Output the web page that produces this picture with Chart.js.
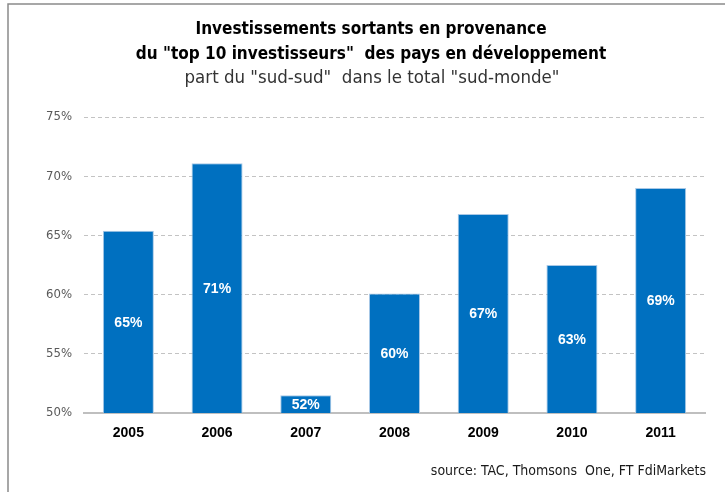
<!DOCTYPE html>
<html>
<head>
<meta charset="utf-8">
<script src="https://cdn.jsdelivr.net/npm/chart.js@4.4.1/dist/chart.umd.min.js"></script>
<style>
  html, body { margin: 0; padding: 0; background: #fff; }
  #wrap { position: relative; width: 725px; height: 492px; }
</style>
</head>
<body>
<div id="wrap"><canvas id="chart"></canvas></div>
<script>
// Data
const years = ['2005', '2006', '2007', '2008', '2009', '2010', '2011'];
const shareSudSud = [65.4, 71.1, 51.5, 60.1, 66.8, 62.5, 69.0];
const yTicks = [50, 55, 60, 65, 70, 75];

const titleLines = ['Investissements sortants en provenance', 'du "top 10 investisseurs"  des pays en développement'];
const subtitleText = 'part du "sud-sud"  dans le total "sud-monde"';
const sourceText = 'source: TAC, Thomsons  One, FT FdiMarkets';

const NARROW = "'Liberation Sans Narrow', 'DejaVu Sans Condensed', sans-serif";
const ARIAL = "'Liberation Sans', Arial, sans-serif";

// Frame lines, titles, value labels inside bars and the source note
const extrasPlugin = {
    id: 'extras',
    beforeDraw(chart) {
        const ctx = chart.ctx;
        ctx.save();
        ctx.strokeStyle = '#8a8a8a';
        ctx.lineWidth = 1.5;
        ctx.beginPath();
        ctx.moveTo(8, 492);
        ctx.lineTo(8, 4);
        ctx.lineTo(725, 4);
        ctx.stroke();

        // titles (centred a bit right of the chart box, as in the source)
        ctx.textAlign = 'center';
        ctx.textBaseline = 'alphabetic';
        ctx.fillStyle = '#000000';
        ctx.font = 'bold 17px ' + NARROW;
        ctx.fillText(titleLines[0], 371, 34);
        ctx.fillText(titleLines[1], 371, 59);
        ctx.fillStyle = '#333333';
        ctx.font = '18.5px ' + NARROW;
        ctx.fillText(subtitleText, 372, 83);
        ctx.restore();
    },
    afterDraw(chart) {
        const ctx = chart.ctx;
        const xs = chart.scales.x;
        const ys = chart.scales.y;
        const base = ys.getPixelForValue(ys.min);
        ctx.save();
        ctx.fillStyle = '#ffffff';
        ctx.font = 'bold 14px ' + ARIAL;
        ctx.textAlign = 'center';
        ctx.textBaseline = 'middle';
        shareSudSud.forEach((v, i) => {
            const x = xs.getPixelForTick(i);
            const top = ys.getPixelForValue(v);
            ctx.fillText(Math.round(v) + '%', x, (top + base) / 2 + 1);
        });

        ctx.fillStyle = '#1a1a1a';
        ctx.font = '14px ' + NARROW;
        ctx.textAlign = 'right';
        ctx.fillText(sourceText, 706, 471);
        ctx.restore();
    }
};

new Chart(document.getElementById('chart'), {
    type: 'bar',
    data: {
        labels: years,
        datasets: [{
            data: shareSudSud,
            backgroundColor: '#0070c0',
            borderColor: '#a8c8e6',
            borderWidth: 1,
            barPercentage: 0.575,
            categoryPercentage: 1
        }]
    },
    options: {
        responsive: true,
        maintainAspectRatio: false,
        animation: false,
        layout: {
            padding: { left: 8, right: 20, top: 117, bottom: 0 }
        },
        plugins: {
            legend: { display: false },
            tooltip: { enabled: false },
            title: { display: false }
        },
        scales: {
            x: {
                grid: { display: false, drawTicks: false },
                border: { color: '#bfbfbf', width: 2 },
                ticks: {
                    color: '#000000',
                    font: { family: ARIAL, size: 14, weight: 'bold' },
                    padding: 12
                },
                afterFit(scale) { scale.height = 79; }
            },
            y: {
                min: 50,
                max: 75,
                afterBuildTicks(scale) {
                    scale.ticks = yTicks.map(v => ({ value: v }));
                },
                grid: {
                    drawTicks: false,
                    color: ctx => ctx.tick && ctx.tick.value === 50 ? 'rgba(0,0,0,0)' : '#c3c3c3',
                    lineWidth: 1
                },
                border: { display: false, dash: [4, 3] },
                ticks: {
                    color: '#595959',
                    font: { family: NARROW, size: 13 },
                    padding: 12,
                    callback: v => v + '%'
                },
                afterFit(scale) { scale.width = 76; }
            }
        }
    },
    plugins: [extrasPlugin]
});
</script>
</body>
</html>
